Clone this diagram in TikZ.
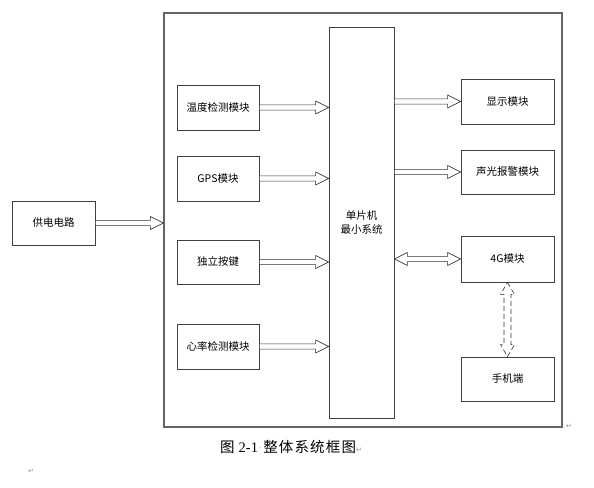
\documentclass[tikz,border=0pt]{standalone}
\usepackage{fontspec}
\setmainfont{Liberation Serif}
\newfontfamily\cjk{Noto Sans CJK SC}
\newfontfamily\cjkcap[LetterSpace=8]{Noto Sans CJK SC}
\newfontfamily\dv{DejaVu Sans}
\usetikzlibrary{calc}
\tikzset{
  box/.style={draw=black!75, line width=0.8pt, fill=white, inner sep=0pt, font=\cjk\fontsize{10.5}{13.5}\selectfont, align=center},
  frame/.style={draw=black!60, line width=1.2pt, inner sep=0pt},
  conn/.style={draw=black!80, line width=0.6pt, fill=white},
  dconn/.style={conn, dash pattern=on 5pt off 3pt},
  parmark/.style={text=black!45, font=\dv\fontsize{7}{8}\selectfont, inner sep=0pt}
}
% right-pointing hollow arrow from #1 to x of #2 at y of #1
\newcommand\rarrow[2]{\path[conn] let \p1=(#1), \p2=(#2) in
  (\x1,{\y1+2.6pt}) -- ({\x2-13pt},{\y1+2.6pt}) -- ({\x2-13pt},{\y1+6.5pt}) -- (\x2,\y1)
  -- ({\x2-13pt},{\y1-6.5pt}) -- ({\x2-13pt},{\y1-2.6pt}) -- (\x1,{\y1-2.6pt}) -- cycle;}
% horizontal double-headed hollow arrow
\newcommand\lrarrow[2]{\path[conn] let \p1=(#1), \p2=(#2) in
  (\x1,\y1) -- ({\x1+13pt},{\y1+6.5pt}) -- ({\x1+13pt},{\y1+2.6pt}) -- ({\x2-13pt},{\y1+2.6pt})
  -- ({\x2-13pt},{\y1+6.5pt}) -- (\x2,\y1) -- ({\x2-13pt},{\y1-6.5pt}) -- ({\x2-13pt},{\y1-2.6pt})
  -- ({\x1+13pt},{\y1-2.6pt}) -- ({\x1+13pt},{\y1-6.5pt}) -- cycle;}
% vertical dashed double-headed hollow arrow
\newcommand\udarrow[2]{\path[dconn] let \p1=(#1), \p2=(#2) in
  (\x1,\y1) -- ({\x1+7pt},{\y1-12pt}) -- ({\x1+3.5pt},{\y1-12pt}) -- ({\x1+3.5pt},{\y2+12pt})
  -- ({\x1+7pt},{\y2+12pt}) -- (\x1,\y2) -- ({\x1-7pt},{\y2+12pt}) -- ({\x1-3.5pt},{\y2+12pt})
  -- ({\x1-3.5pt},{\y1-12pt}) -- ({\x1-7pt},{\y1-12pt}) -- cycle;}
\begin{document}
\begin{tikzpicture}[x=1pt,y=-1pt]
\useasboundingbox[fill=white] (0,0) rectangle (594,487);
\node[frame, minimum width=398pt, minimum height=414pt] (frame) at (363,220) {};
\node[box, minimum width=83pt, minimum height=44pt] (gd) at (53.5,223) {供电电路};
\node[box, minimum width=82pt, minimum height=45pt] (wd) at (218,107.5) {温度检测模块};
\node[box, minimum width=82pt, minimum height=45pt] (gps) at (218,178.5) {GPS模块};
\node[box, minimum width=82pt, minimum height=44pt] (dl) at (218,262) {独立按键};
\node[box, minimum width=82pt, minimum height=45pt] (xl) at (218,346.5) {心率检测模块};
\node[box, minimum width=65pt, minimum height=391pt] (mcu) at (361.5,222.5) {单片机\\最小系统};
\node[box, minimum width=93pt, minimum height=45pt] (xs) at (507.5,101.5) {显示模块};
\node[box, minimum width=93pt, minimum height=44pt] (sg) at (507.5,172) {声光报警模块};
\node[box, minimum width=93pt, minimum height=46pt] (g4) at (507.5,259) {4G模块};
\node[box, minimum width=93pt, minimum height=44pt] (sj) at (507.5,379) {手机端};
\rarrow{gd.east}{frame.west}
\rarrow{wd.east}{mcu.west}
\rarrow{gps.east}{mcu.west}
\rarrow{dl.east}{mcu.west}
\rarrow{xl.east}{mcu.west}
\rarrow{mcu.east |- xs.west}{xs.west}
\rarrow{mcu.east |- sg.west}{sg.west}
\lrarrow{mcu.east |- g4.west}{g4.west}
\udarrow{g4.south}{sj.north}
\node[anchor=base west, inner sep=0pt, font=\fontsize{14.5}{16}\selectfont] (cap) at (220,452)
  {{\cjk 图}\hspace{4pt}2-1{\color{black!45}\dv\fontsize{7}{8}\selectfont\hspace{1pt}\raisebox{2pt}{·}\hspace{2pt}}{\cjkcap 整体系统框图}{\color{black!45}\dv\fontsize{7}{8}\selectfont ↵}};
\node[parmark, anchor=north west] (m1) at (566,424) {↵};
\node[parmark, anchor=north west] (m2) at (28,469) {↵};
\end{tikzpicture}
\end{document}
